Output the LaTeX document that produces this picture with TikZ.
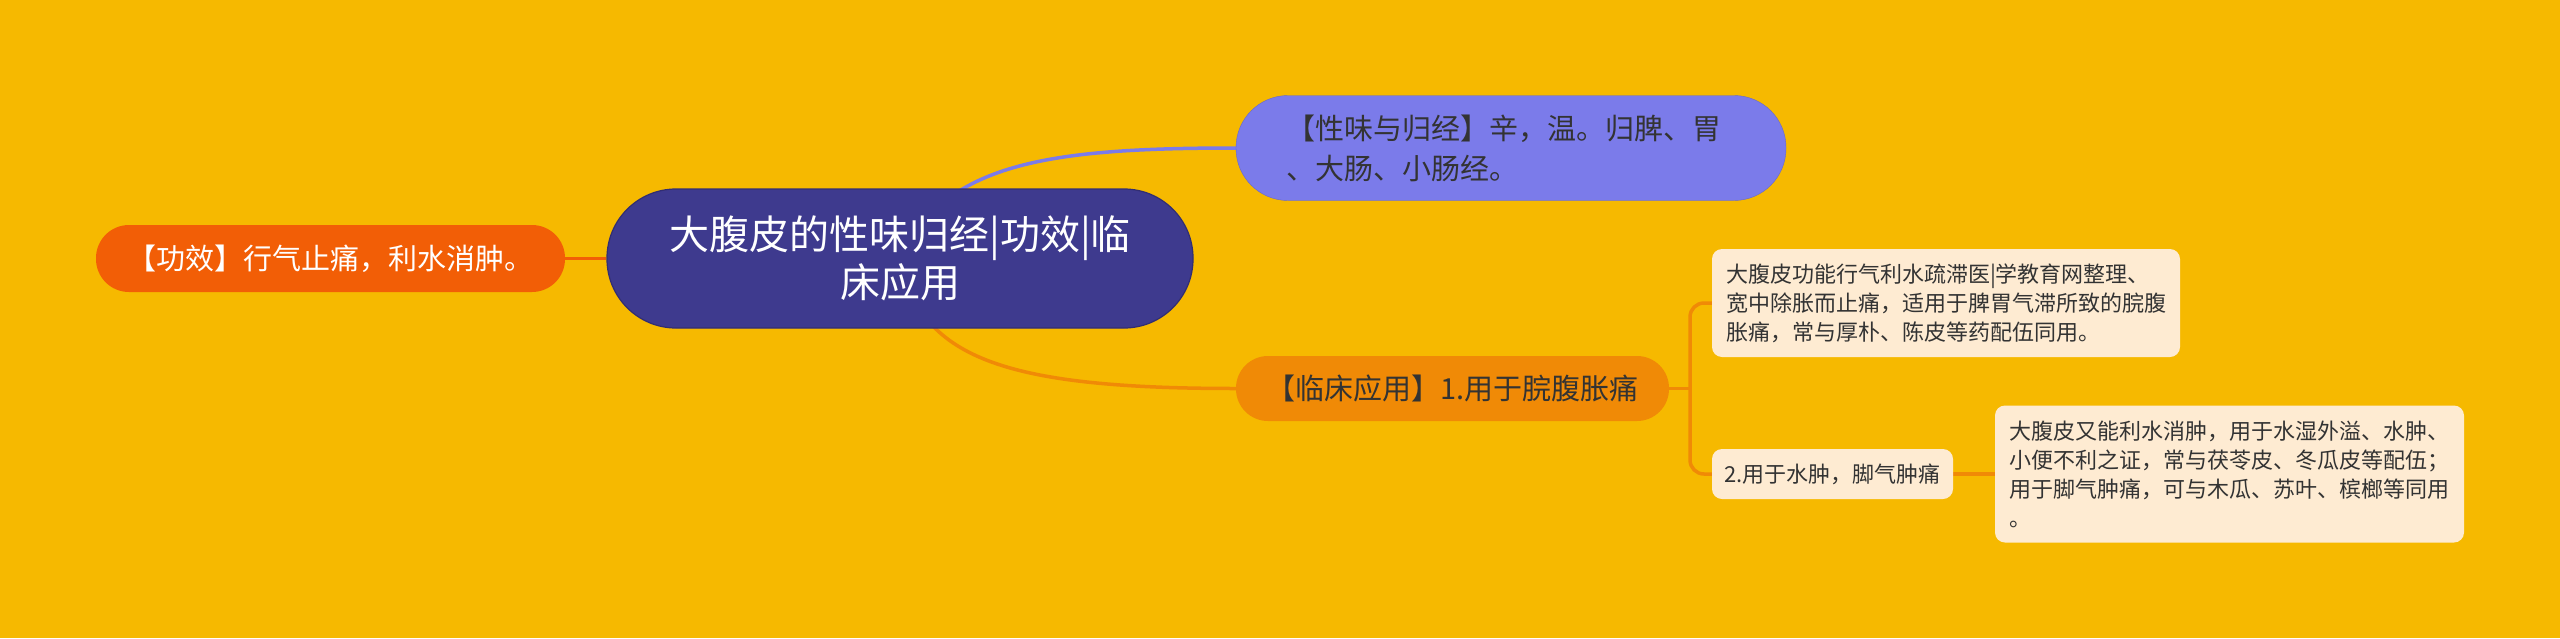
\documentclass[tikz,border=0pt]{standalone}
\usepackage{fontspec}
\newfontfamily\cjkfont{Noto Sans CJK SC}
\usetikzlibrary{backgrounds}
\definecolor{bgyellow}{HTML}{F6B900}
\definecolor{rootnavy}{HTML}{3E3A8E}
\definecolor{effectred}{HTML}{F25E06}
\definecolor{tasteviolet}{HTML}{7B7BEA}
\definecolor{clinicorange}{HTML}{F08A06}
\definecolor{leafcream}{HTML}{FEEBD2}
\definecolor{textdark}{HTML}{333333}
\begin{document}
\begin{tikzpicture}
[x=1pt,y=-1pt,%
  rootdecorate/.style={fill=rootnavy,draw=rootnavy!80!black,line width=1.2pt,rounded corners=69pt,minimum width=586pt,minimum height=139pt,inner sep=0pt,align=center,text=white,font=\cjkfont\fontsize{40}{48}\selectfont},%
  pilldecorate/.style={inner sep=0pt,text=textdark,font=\cjkfont\fontsize{29}{40}\selectfont},%
  leafdecorate/.style={fill=leafcream,rounded corners=10pt,inner sep=0pt,align=left,text=textdark,font=\cjkfont\fontsize{22}{29}\selectfont},%
  linedecorate/.style={-,line width=3.5pt},%
  scale=1]
\useasboundingbox (0,0) rectangle (2560,638);
%% nodes
\node (root) at (900,258.5) [rootdecorate] {大腹皮的性味归经|功效|临\\床应用};
\node (effect) at (330.5,258.5) [pilldecorate,fill=effectred,text=white,rounded corners=33pt,minimum width=469pt,minimum height=67pt] {【功效】行气止痛，利水消肿。};
\node (taste) at (1511,148) [pilldecorate,fill=tasteviolet,draw=tasteviolet!85!black,rounded corners=52pt,minimum width=550pt,minimum height=105pt,text width=450pt,align=left] {【性味与归经】辛，温。归脾、胃\\、大肠、小肠经。};
\node (clinic) at (1452.5,388.5) [pilldecorate,fill=clinicorange,rounded corners=32pt,minimum width=433pt,minimum height=65pt] {【临床应用】1.用于脘腹胀痛};
%% leaves
\node (leafa) at (1946,303) [leafdecorate,minimum width=468pt,minimum height=108pt] {大腹皮功能行气利水疏滞医|学教育网整理、\\宽中除胀而止痛，适用于脾胃气滞所致的脘腹\\胀痛，常与厚朴、陈皮等药配伍同用。};
\node (leafb) at (1832.5,474) [leafdecorate,minimum width=241pt,minimum height=50pt] {2.用于水肿，脚气肿痛};
\node (leafc) at (2229.5,474) [leafdecorate,minimum width=469pt,minimum height=137pt] {大腹皮又能利水消肿，用于水湿外溢、水肿、\\小便不利之证，常与茯苓皮、冬瓜皮等配伍；\\用于脚气肿痛，可与木瓜、苏叶、槟榔等同用\\。};
%% edges or lines
\begin{pgfonlayer}{background}
\fill[bgyellow] (0,0) rectangle (2560,638);
\coordinate (fork) at (1690,388.5);
\draw[linedecorate,tasteviolet] (root.center) .. controls +(45,-95) and +(-190,0) .. (taste.west);
\draw[linedecorate,clinicorange] (root.center) .. controls +(20,98) and +(-236,0) .. (clinic.west);
\draw[linedecorate,clinicorange,rounded corners=14pt] (leafa.west) -| (fork) |- (leafb.west);
\path
\foreach \startnode/\endnode/\linecolor in {
  effect/root/effectred, clinic/fork/clinicorange, leafb/leafc/clinicorange} {
  (\startnode) edge[linedecorate,\linecolor] (\endnode)
};
\end{pgfonlayer}
\end{tikzpicture}
\end{document}
